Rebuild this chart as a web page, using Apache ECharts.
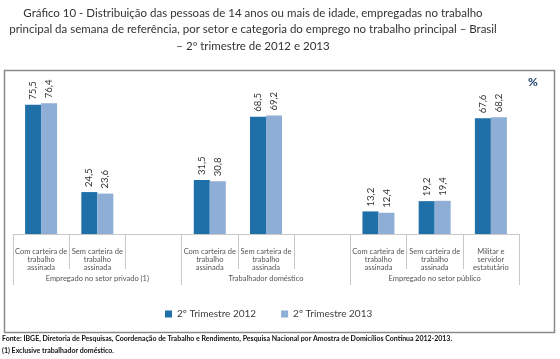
<!DOCTYPE html>
<html><head><meta charset="utf-8">
<script src="https://cdn.jsdelivr.net/npm/echarts@6/dist/echarts.min.js"></script>
<style>html,body{margin:0;padding:0;background:#fff}#c{width:560px;height:359px}</style>
</head><body><div id="c"></div>
<script>
const categories = ['Com carteira de\ntrabalho\nassinada','Sem carteira de\ntrabalho\nassinada','','Com carteira de\ntrabalho\nassinada','Sem carteira de\ntrabalho\nassinada','','Com carteira de\ntrabalho\nassinada','Sem carteira de\ntrabalho\nassinada','Militar e\nservidor\nestatutário'];
const groups = ['Empregado no setor privado (1)','Trabalhador doméstico','Empregado no setor público'];
const s2012 = [75.5, 24.5, '-', 31.5, 68.5, '-', 13.2, 19.2, 67.6];
const s2013 = [76.4, 23.6, '-', 30.8, 69.2, '-', 12.4, 19.4, 68.2];
const seriesNames = ['2º Trimestre 2012','2º Trimestre 2013'];
const titleLines = ['Gráfico 10 - Distribuição das pessoas de 14 anos ou mais de idade, empregadas no trabalho','principal da semana de referência, por setor e categoria do emprego no trabalho principal – Brasil','– 2º trimestre de 2012 e 2013'];
const footer = ['Fonte: IBGE, Diretoria de Pesquisas, Coordenação de Trabalho e Rendimento, Pesquisa Nacional por Amostra de Domicílios Contínua 2012-2013.','(1) Exclusive trabalhador doméstico.'];

const FONT = 'Lato';
const chart = echarts.init(document.getElementById('c'), null, {renderer:'canvas'});
const lbl = {show:true, position:'top', rotate:90, align:'left', verticalAlign:'middle', distance:5,
  fontFamily:FONT, fontSize:9.5, color:'#333', formatter:p => Number(p.value).toFixed(1).replace('.', ',')};
chart.setOption({
  animation:false,
  textStyle:{fontFamily:FONT},
  graphic:[
    {type:'rect', shape:{x:4.5,y:70.5,width:550,height:262}, style:{fill:'none', stroke:'#8a8a8a', lineWidth:1.5}, z:-1},
    ...titleLines.map((t,i)=>({type:'text', x:253, y:7+i*16.5, style:{text:t, textAlign:'center', font:'11.5px Lato', fill:'#333'}})),
    {type:'text', x:528, y:76, style:{text:'%', font:'bold 12px Lato', fill:'#1f3f6a'}},
    ...footer.map((t,i)=>({type:'text', x:2, y:335+i*12, style:{text:t, font:'bold 7px Lato', fill:'#111'}}))
  ],
  legend:{left:165, top:309, padding:0, itemWidth:7, itemHeight:7, itemGap:25, icon:'rect',
    textStyle:{fontFamily:FONT, fontSize:10, color:'#404040'}, data:seriesNames},
  grid:{left:13, right:41, top:80, bottom:125},
  xAxis:[
    {type:'category', data:categories, axisLine:{show:true, lineStyle:{color:'#c8c8c8'}},
     axisTick:{show:true, length:35, lineStyle:{color:'#c8c8c8'}}, 
     axisLabel:{show:true, interval:0, margin:14, fontFamily:FONT, fontSize:7.5, lineHeight:8, color:'#555'}},
    {type:'category', data:groups, position:'bottom', offset:0, axisLine:{show:false},
     axisTick:{show:true, length:51, lineStyle:{color:'#c8c8c8'}},
     axisLabel:{show:true, interval:0, margin:41, fontFamily:FONT, fontSize:7.5, color:'#555'}}
  ],
  yAxis:{type:'value', min:0, max:90, show:false, splitLine:{show:false}},
  series:[
    {name:seriesNames[0], type:'bar', data:s2012, barWidth:16, barGap:'0%', itemStyle:{color:'#1f6fa8'}, label:lbl},
    {name:seriesNames[1], type:'bar', data:s2013, barWidth:16, barGap:'0%', itemStyle:{color:'#8eaed5'}, label:lbl}
  ]
});
</script></body></html>
